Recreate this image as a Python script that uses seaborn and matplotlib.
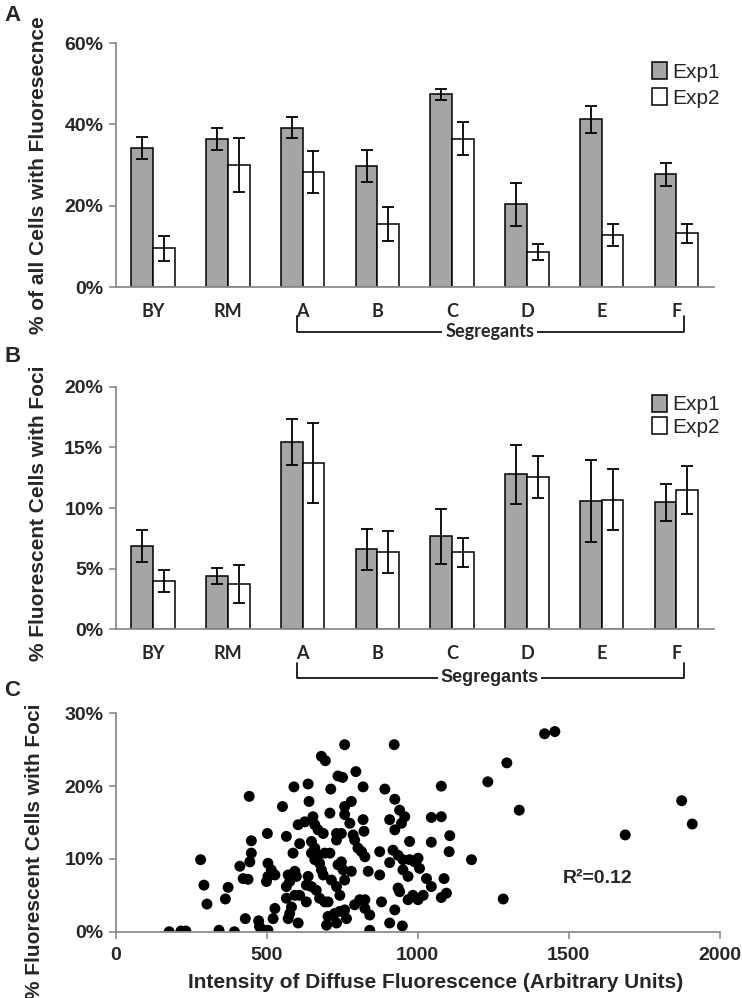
import numpy as np
import pandas as pd
import seaborn as sns
import matplotlib.pyplot as plt
from matplotlib import font_manager

sns.set_style("white")
plt.rcParams['font.family'] = ['Liberation Sans', 'DejaVu Sans']
plt.rcParams['font.weight'] = 'bold'
plt.rcParams['axes.labelweight'] = 'bold'

names = {f.name for f in font_manager.fontManager.ttflist}
CAT = 'Lato' if 'Lato' in names else 'Liberation Sans'

# ---- data ----
strains = ['BY', 'RM', 'A', 'B', 'C', 'D', 'E', 'F']
exps = ['Exp1', 'Exp2']

# panel A: % of all cells with fluorescence
a_exp1 = [34.2, 36.5, 39.2, 29.8, 47.4, 20.3, 41.2, 27.7]
a_exp1_err = [2.6, 2.7, 2.5, 4.0, 1.4, 5.3, 3.3, 2.9]
a_exp2 = [9.5, 30.0, 28.2, 15.5, 36.5, 8.6, 12.8, 13.2]
a_exp2_err = [3.0, 6.6, 5.2, 4.2, 4.1, 1.9, 2.8, 2.3]

# panel B: % fluorescent cells with foci
b_exp1 = [6.87, 4.42, 15.47, 6.6, 7.66, 12.77, 10.58, 10.47]
b_exp1_err = [1.35, 0.66, 1.9, 1.7, 2.3, 2.4, 3.35, 1.5]
b_exp2 = [4.0, 3.74, 13.74, 6.37, 6.37, 12.55, 10.69, 11.5]
b_exp2_err = [0.9, 1.55, 3.3, 1.7, 1.2, 1.7, 2.5, 2.0]

# panel C: diffuse intensity vs % cells with foci
diffuse = [442, 449, 449, 281, 411, 444, 422, 438, 292, 372, 302, 363,
           177, 216, 232, 342, 393, 429, 473, 476,
           653, 709, 758, 775, 819, 604, 626, 659, 670, 687, 731, 747, 731, 786, 791, 822,
           502, 565, 609, 648, 659, 648, 670, 692, 709, 587, 802, 814, 825, 874,
           747, 736, 753, 659, 675, 681, 687, 780, 836, 874,
           504, 515, 527, 504, 499, 571, 593, 598, 576, 565, 637, 631, 648, 664,
           714, 731, 742, 758, 675, 692, 703, 565, 593, 609, 582, 576, 571, 604, 631,
           791, 808, 825, 825, 841, 880, 527, 521, 703, 725, 742, 758, 764, 698, 731,
           841, 504, 493,
           758, 681, 694, 736, 751, 795, 590, 637, 712, 819, 640, 780, 552, 758,
           922, 1078, 891, 924, 940,
           957, 946, 907, 924, 1045, 1078, 1106, 1045, 973, 1104, 1178, 918, 935, 951,
           907, 973, 990, 1001, 1006, 951, 968, 1029, 1087, 1045, 935, 940, 984, 968,
           1001, 1018, 1095, 1078, 924, 907, 949,
           1420, 1454, 1295, 1232, 1336, 1283, 1687, 1874, 1909]
foci = [18.6, 12.5, 10.8, 9.9, 9.0, 9.6, 7.3, 7.2, 6.4, 6.1, 3.8, 4.5,
        0.0, 0.1, 0.1, 0.2, 0.0, 1.8, 1.5, 0.7,
        15.8, 16.3, 16.1, 14.9, 15.4, 14.7, 15.1, 14.7, 14.0, 13.5, 13.5, 13.5, 12.6, 13.3, 12.6, 13.8,
        13.5, 13.1, 12.1, 12.4, 11.5, 10.8, 10.5, 10.8, 10.8, 10.8, 11.5, 11.0, 10.3, 11.0,
        9.6, 9.2, 8.5, 9.9, 9.4, 8.5, 7.8, 8.3, 8.3, 7.8,
        9.4, 8.5, 7.8, 7.6, 6.9, 7.8, 8.3, 7.6, 6.9, 6.2, 7.6, 6.4, 6.2, 5.7,
        7.1, 6.2, 5.0, 7.1, 4.6, 4.1, 4.1, 4.6, 5.0, 5.0, 3.4, 2.5, 1.8, 1.2, 4.1,
        3.7, 4.4, 4.4, 3.2, 2.3, 4.1, 3.2, 1.8, 2.1, 2.5, 2.8, 3.0, 1.8, 0.9, 1.2,
        0.2, 0.2, 0.2,
        25.7, 24.1, 23.5, 21.4, 21.2, 22.0, 19.9, 20.3, 19.6, 19.9, 17.9, 17.9, 17.2, 17.2,
        25.7, 20.0, 19.6, 18.2, 16.7,
        15.8, 14.9, 15.4, 14.0, 15.7, 15.8, 13.2, 12.3, 12.4, 11.0, 9.9, 11.2, 10.5, 9.9,
        9.5, 9.9, 9.6, 10.1, 8.7, 8.5, 7.6, 7.3, 7.3, 6.2, 6.0, 5.5, 5.0, 4.4,
        4.4, 5.0, 5.3, 4.7, 3.0, 1.2, 0.8,
        27.2, 27.5, 23.2, 20.6, 16.7, 4.5, 13.3, 18.0, 14.8]

SPINE = '#8c8c8c'


def style_axes(ax, yticks):
    sns.despine(ax=ax)
    for s in ('left', 'bottom'):
        ax.spines[s].set_color(SPINE)
        ax.spines[s].set_linewidth(1.3)
    ax.set_yticks(yticks, ['%d%%' % v for v in yticks], fontsize=14, fontweight='bold')
    ax.tick_params(axis='y', left=True, length=5, width=1.2, color=SPINE, pad=4)


def bar_panel(ax, e1, e1err, e2, e2err, ymax, step, legend_y, spacing):
    df = pd.DataFrame({'strain': strains * 2,
                       'exp': ['Exp1'] * 8 + ['Exp2'] * 8,
                       'value': e1 + e2})
    sns.barplot(data=df, x='strain', y='value', hue='exp', order=strains,
                hue_order=exps, palette={'Exp1': '#a5a5a5', 'Exp2': 'white'},
                edgecolor='black', linewidth=1.1, width=0.58, errorbar=None, ax=ax)
    for cont, err in zip(ax.containers, [e1err, e2err]):
        xs = [b.get_x() + b.get_width() / 2 for b in cont]
        hs = [b.get_height() for b in cont]
        ax.errorbar(xs, hs, yerr=err, fmt='none', ecolor='black',
                    elinewidth=1.3, capsize=4.5, capthick=1.3)
    ax.set_xlim(-0.5, 7.5)
    ax.set_ylim(0, ymax)
    ax.set_xlabel('')
    ax.set_ylabel('')
    ax.set_xticks(range(len(strains)), strains, fontsize=13, fontweight='bold', family=CAT)
    ax.tick_params(axis='x', bottom=False, pad=8)
    style_axes(ax, list(range(0, ymax + 1, step)))
    handles, labels = ax.get_legend_handles_labels()
    ax.legend(handles, labels, loc='upper left', bbox_to_anchor=(0.865, legend_y),
              frameon=False, handlelength=0.75, handleheight=0.9, handletextpad=0.25,
              labelspacing=spacing, prop={'size': 15, 'weight': 'normal'})


def bracket(ax, ytop, ybot, font):
    tr = ax.get_xaxis_transform()
    ax.plot([1.92, 1.92, 7.1, 7.1], [ytop, ybot, ybot, ytop], color='black',
            lw=1.2, transform=tr, clip_on=False)
    ax.text(4.5, ybot, 'Segregants', transform=tr, ha='center', va='center',
            fontsize=13, fontweight='bold', family=font,
            bbox=dict(facecolor='white', edgecolor='none', pad=2))


fig = plt.figure(figsize=(7.42, 9.98), dpi=100)

axA = fig.add_axes([0.156, 0.7124, 0.806, 0.2445])
bar_panel(axA, a_exp1, a_exp1_err, a_exp2, a_exp2_err, 60, 20, 1.0, 0.3)
axA.set_ylabel('% of all Cells with Fluoresecnce', fontsize=15, fontweight='bold')
axA.yaxis.set_label_coords(-0.114, 0.46)
bracket(axA, -0.12, -0.183, CAT)

axB = fig.add_axes([0.156, 0.3694, 0.806, 0.2431])
bar_panel(axB, b_exp1, b_exp1_err, b_exp2, b_exp2_err, 20, 5, 1.045, 0.12)
axB.set_ylabel('% Fluorescent Cells with Foci', fontsize=15, fontweight='bold')
axB.yaxis.set_label_coords(-0.114, 0.48)
bracket(axB, -0.14, -0.2, 'Liberation Sans')

axC = fig.add_axes([0.156, 0.0664, 0.814, 0.2188])
sns.scatterplot(x=diffuse, y=foci, color='black', s=62, edgecolor='none', ax=axC)
axC.set_xlim(0, 2000)
axC.set_ylim(0, 30)
xt = [0, 500, 1000, 1500, 2000]
axC.set_xticks(xt, [str(v) for v in xt], fontsize=14, fontweight='bold')
axC.tick_params(axis='x', bottom=True, length=5, width=1.2, color=SPINE, pad=6)
style_axes(axC, [0, 10, 20, 30])
axC.set_ylabel('% Fluorescent Cells with Foci', fontsize=15, fontweight='bold')
axC.yaxis.set_label_coords(-0.118, 0.37)
axC.set_xlabel('Intensity of Diffuse Fluorescence (Arbitrary Units)',
               fontsize=15, fontweight='bold')
axC.xaxis.set_label_coords(0.53, -0.19)
axC.text(1480, 7.3, 'R\u00b2=0.12', fontsize=14, fontweight='bold', va='center')

for lbl, y in [('A', 0.984), ('B', 0.643), ('C', 0.308)]:
    fig.text(0.006, y, lbl, fontsize=16, fontweight='bold', va='center')

fig.savefig('out.png', dpi=100)
